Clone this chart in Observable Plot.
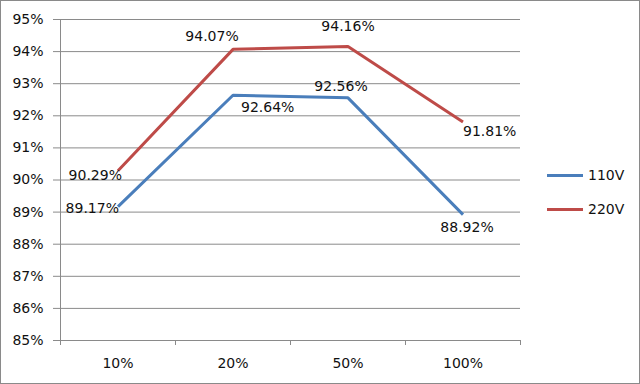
<!DOCTYPE html>
<html>
<head>
<meta charset="utf-8">
<script src="https://cdn.jsdelivr.net/npm/d3@7"></script>
<script src="https://cdn.jsdelivr.net/npm/@observablehq/plot@0.6"></script>
<style>
  body { margin: 0; background: #fff; }
  #wrap { position: relative; width: 640px; height: 384px; font-family: "DejaVu Sans", sans-serif; }
  #frame { position: absolute; left: 0; top: 0; width: 640px; height: 384px; box-sizing: border-box; border: 1px solid #8a8a8a; pointer-events: none; }
  #legend { position: absolute; left: 547px; top: 164px; font-size: 14px; color: #111; }
  .item { display: flex; align-items: center; height: 22px; margin-bottom: 12px; }
  .sw { width: 36px; height: 3px; margin-right: 5px; }
</style>
</head>
<body>
<div id="wrap"><div id="frame"></div></div>
<script>
const categories = ["10%", "20%", "50%", "100%"];
const seriesNames = ["110V", "220V"];
const values110 = [89.17, 92.64, 92.56, 88.92];
const values220 = [90.29, 94.07, 94.16, 91.81];
const yTicks = [85, 86, 87, 88, 89, 90, 91, 92, 93, 94, 95];
const colors = ["#4a7ebb", "#be4b48"];

const rows = [];
[values110, values220].forEach((vals, s) => {
  vals.forEach((v, i) => rows.push({series: seriesNames[s], i, cat: categories[i], v}));
});

// label placement (Excel-like)
const place = {
  "110V": [
    {dx: 1, dy: 2, a: "end"}, {dx: 8, dy: 12, a: "start"}, {dx: -7, dy: -11, a: "middle"}, {dx: 4, dy: 13, a: "middle"}
  ],
  "220V": [
    {dx: 4, dy: 5, a: "end"}, {dx: -21, dy: -13, a: "middle"}, {dx: 0, dy: -20, a: "middle"}, {dx: 0, dy: 10, a: "start"}
  ]
};

const labelMarks = rows.map(r => {
  const p = place[r.series][r.i];
  return Plot.text([r], {x: "i", y: "v", text: d => d.v.toFixed(2) + "%", dx: p.dx, dy: p.dy, textAnchor: p.a, fill: "#111", fontSize: 14});
});

const idx = categories.map((c, i) => i);
const edges = d3.range(-0.5, categories.length, 1);

const chart = Plot.plot({
  width: 640,
  height: 384,
  marginLeft: 60,
  marginRight: 120,
  marginTop: 19,
  marginBottom: 44,
  style: {fontFamily: "DejaVu Sans, sans-serif", fontSize: "14px", color: "#111", background: "transparent"},
  x: {type: "linear", domain: [-0.5, categories.length - 0.5]},
  y: {domain: [85, 95]},
  color: {domain: seriesNames, range: colors},
  marks: [
    Plot.gridY(yTicks, {stroke: "#8a8a8a", strokeOpacity: 1}),
    Plot.ruleX([-0.5], {stroke: "#8a8a8a"}),
    Plot.axisY(yTicks, {tickFormat: d => d + "%", tickSize: 7, tickPadding: 10, stroke: "#8a8a8a", label: null, fontSize: 14}),
    Plot.axisX(edges, {tickFormat: () => "", tickSize: 5, stroke: "#8a8a8a", label: null}),
    Plot.axisX(idx, {tickFormat: i => categories[i], tickSize: 0, tickPadding: 18, label: null, fontSize: 14}),
    Plot.line(rows, {x: "i", y: "v", z: "series", stroke: "series", strokeWidth: 3, strokeLinejoin: "miter", strokeLinecap: "butt"}),
    ...labelMarks
  ]
});

const wrap = document.getElementById("wrap");
wrap.insertBefore(chart, wrap.firstChild);

const legend = document.createElement("div");
legend.id = "legend";
seriesNames.forEach((n, k) => {
  const it = document.createElement("div");
  it.className = "item";
  const sw = document.createElement("div");
  sw.className = "sw";
  sw.style.background = colors[k];
  const t = document.createElement("span");
  t.textContent = n;
  it.appendChild(sw);
  it.appendChild(t);
  legend.appendChild(it);
});
wrap.appendChild(legend);
</script>
</body>
</html>
